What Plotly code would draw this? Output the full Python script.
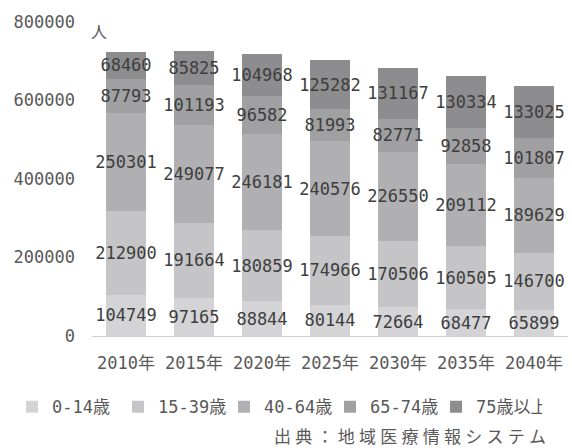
import plotly.graph_objects as go

# Population by age group (people), 2010-2040
years = ["2010年", "2015年", "2020年", "2025年", "2030年", "2035年", "2040年"]
age_0_14 = [104749, 97165, 88844, 80144, 72664, 68477, 65899]
age_15_39 = [212900, 191664, 180859, 174966, 170506, 160505, 146700]
age_40_64 = [250301, 249077, 246181, 240576, 226550, 209112, 189629]
age_65_74 = [87793, 101193, 96582, 81993, 82771, 92858, 101807]
age_75_plus = [68460, 85825, 104968, 125282, 131167, 130334, 133025]

group_names = ["0-14歳", "15-39歳", "40-64歳", "65-74歳", "75歳以上"]
group_values = [age_0_14, age_15_39, age_40_64, age_65_74, age_75_plus]
group_colors = ["#d4d4d6", "#c5c5c7", "#b0b0b2", "#a0a0a2", "#8d8d8f"]

y_ticks = [0, 200000, 400000, 600000, 800000]

FONT = "DejaVu Sans Mono, Noto Sans CJK JP, sans-serif"
NOTE_FONT = "DejaVu Sans, Noto Sans CJK JP, sans-serif"
LABEL_GRAY = "#595959"

fig = go.Figure()
for name, vals, color in zip(group_names, group_values, group_colors):
    fig.add_trace(go.Bar(
        x=years,
        y=vals,
        name=name,
        marker=dict(color=color, line=dict(width=0)),
        text=[str(v) for v in vals],
        textposition="inside",
        insidetextanchor="middle",
        constraintext="none",
        textangle=0,
        textfont=dict(family=FONT, size=17, color="#3e3e3e"),
        cliponaxis=False,
        hoverinfo="skip",
    ))

fig.update_layout(
    width=572,
    height=448,
    barmode="stack",
    bargap=0.425,
    paper_bgcolor="white",
    plot_bgcolor="white",
    margin=dict(l=92, r=4, t=22, b=112, autoexpand=False),
    font=dict(family=FONT, size=17, color=LABEL_GRAY),
    xaxis=dict(
        showgrid=False,
        showline=True,
        linecolor="#d0d0d0",
        linewidth=1,
        ticks="",
        ticklabelstandoff=12,
        tickfont=dict(family=FONT, size=17, color=LABEL_GRAY),
    ),
    yaxis=dict(
        range=[0, 800000],
        tickvals=y_ticks,
        ticktext=[str(v) for v in y_ticks],
        showgrid=False,
        zeroline=False,
        showline=False,
        ticks="",
        ticklabelstandoff=16,
        tickfont=dict(family=FONT, size=17, color=LABEL_GRAY),
    ),
    showlegend=True,
    legend=dict(
        orientation="h",
        xref="paper",
        yref="paper",
        x=-0.168,
        xanchor="left",
        y=-0.227,
        yanchor="middle",
        traceorder="normal",
        itemwidth=30,
        entrywidth=61,
        font=dict(family=FONT, size=17, color=LABEL_GRAY),
    ),
    annotations=[
        dict(
            text="人",
            xref="paper", yref="paper",
            x=0.015, y=0.965,
            xanchor="center", yanchor="middle",
            showarrow=False,
            font=dict(family=FONT, size=16, color=LABEL_GRAY),
        ),
        dict(
            text="\u2005".join("出典：地域医療情報システム"),
            xref="paper", yref="paper",
            x=0.958, y=-0.323,
            xanchor="right", yanchor="middle",
            showarrow=False,
            font=dict(family=NOTE_FONT, size=17, color=LABEL_GRAY),
        ),
    ],
)

fig.write_html("out.html")
